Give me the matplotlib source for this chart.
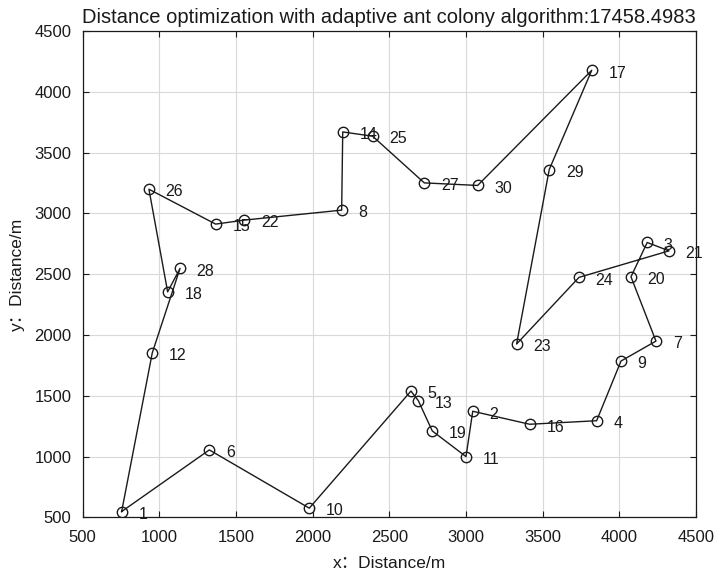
import matplotlib
matplotlib.use("Agg")
import matplotlib.pyplot as plt

plt.rcParams['font.family'] = ['Liberation Sans', 'Noto Sans CJK SC', 'DejaVu Sans']

city_ids = list(range(1, 31))
city_x = [754, 3044, 4182, 3852, 2641, 1326, 4239, 2189, 4011, 1978,
          3000, 954, 2689, 2196, 1367, 3415, 3820, 1054, 2780, 4076,
          4324, 1554, 3330, 3737, 2391, 932, 2728, 1135, 3543, 3076]
city_y = [548, 1373, 2761, 1295, 1539, 1055, 1950, 3027, 1786, 576,
          1000, 1854, 1460, 3670, 2912, 1266, 4177, 2355, 1211, 2479,
          2692, 2945, 1926, 2474, 3635, 3199, 3251, 2548, 3361, 3230]
route = [1, 6, 10, 5, 13, 19, 11, 2, 16, 4, 9, 7, 20, 3, 21, 24, 23, 29, 17,
         30, 27, 25, 14, 8, 22, 15, 26, 18, 28, 12, 1]
ticks = [500, 1000, 1500, 2000, 2500, 3000, 3500, 4000, 4500]
title = "Distance optimization with adaptive ant colony algorithm:17458.4983"

fig = plt.figure(figsize=(7.21, 5.82), dpi=100)
ax = fig.add_axes([0.1147, 0.111, 0.8506, 0.8357])

rx = [city_x[i - 1] for i in route]
ry = [city_y[i - 1] for i in route]
ax.plot(rx, ry, '-', color='#1a1a1a', lw=1.0, zorder=3)
ax.plot(city_x, city_y, 'o', mfc='none', mec='#1a1a1a', ms=7.5, mew=1.0, zorder=4)
for cid, x, y in zip(city_ids, city_x, city_y):
    ax.annotate(str(cid), (x, y), xytext=(12, -2), textcoords='offset points',
                fontsize=11.5, va='center', ha='left', color='#1a1a1a')

ax.set_xlim(500, 4500)
ax.set_ylim(500, 4500)
ax.set_xticks(ticks)
ax.set_yticks(ticks)
ax.tick_params(direction='in', top=True, right=True, labelsize=12, length=4,
               colors='#1a1a1a')
ax.tick_params(axis='x', pad=9)
ax.tick_params(axis='y', pad=8)
ax.grid(True, color='#d9d9d9', lw=0.8)
ax.set_axisbelow(True)
for s in ax.spines.values():
    s.set_color('#1a1a1a')
    s.set_linewidth(0.9)

ax.set_title(title, fontsize=14.5, pad=6, color='#1a1a1a')
ax.set_xlabel("x：Distance/m", fontsize=12.5, color='#1a1a1a', labelpad=8)
ax.set_ylabel("y：Distance/m", fontsize=12.5, color='#1a1a1a', labelpad=7)

fig.savefig("out.png", dpi=100, facecolor='white')
